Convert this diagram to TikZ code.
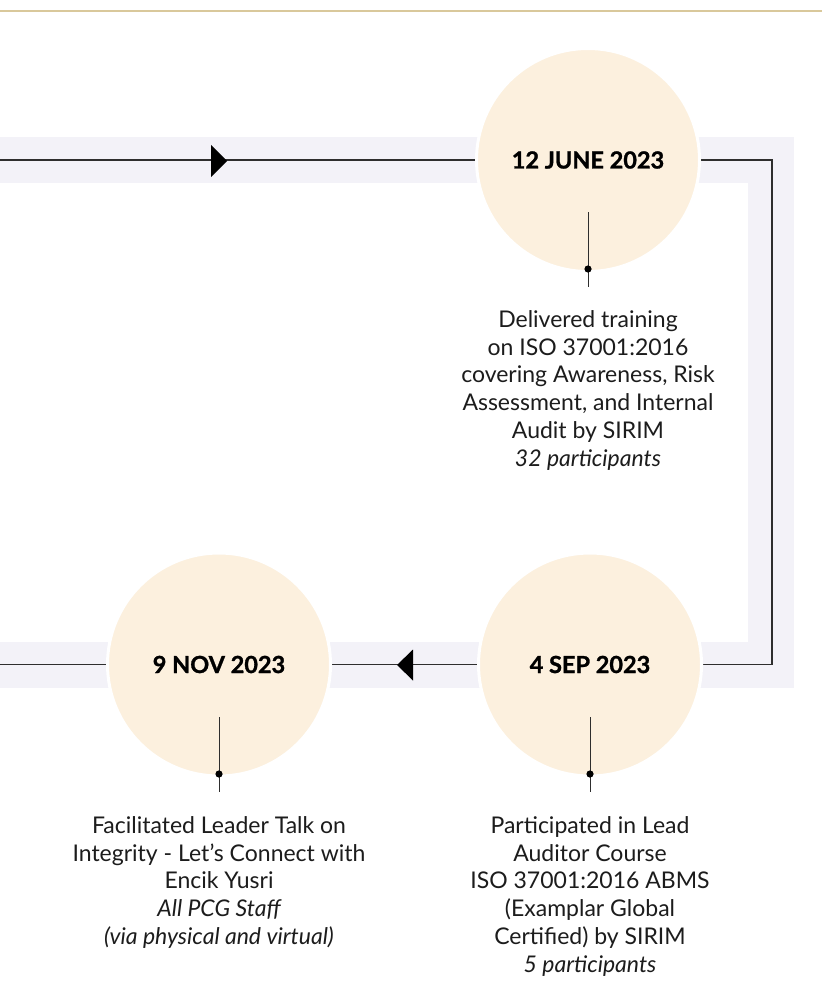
\documentclass[tikz,border=0pt]{standalone}
\usepackage{fontspec}
\setmainfont{Lato}
\newfontfamily\datefont[BoldFeatures={FakeBold=1.2}]{Lato}
\definecolor{gold}{HTML}{D9C89B}
\definecolor{band}{HTML}{F3F2F8}
\definecolor{cream}{HTML}{FCF0DE}
\definecolor{ink}{HTML}{1C1C1C}
\definecolor{wire}{HTML}{2E2E2E}
\tikzset{
  datecircle/.style={circle,fill=cream,draw=white,line width=3pt,minimum size=223pt,inner sep=0pt,
     font=\datefont\fontsize{23.5}{26}\selectfont\bfseries,text=black},
  wireline/.style={draw=wire,line width=1.3pt},
  stem/.style={draw=wire,line width=1pt},
  desc/.style={align=center,anchor=north,inner sep=0pt,text=ink,font=\fontsize{23}{27.8}\selectfont},
  tri/.style={fill=black},
}
\begin{document}
\begin{tikzpicture}[x=1pt,y=-1pt]
\useasboundingbox (0,0) rectangle (822,1003);
\fill[white] (0,0) rectangle (822,1003);
% top rule
\coordinate (r1) at (0,11);
\coordinate (r2) at (822,11);
\draw[gold,line width=2.2pt] (r1) -- (r2);
% band
\draw[band,line width=46pt,line join=miter] (-30,160) -- (771,160) -- (771,664.5) -- (-30,664.5);
% wire coordinates
\coordinate (w0) at (0,160);
\coordinate (w1) at (772,160);
\coordinate (w2) at (772,664.5);
\coordinate (w3) at (0,664.5);
\coordinate (cj) at (588,160);
\coordinate (cn) at (219,664.5);
\draw[wireline] (w0) -- (cj);
\draw[wireline] (cj) -- (w1) -- (w2) -- (cn);
\draw[wireline] (cn) -- (w3);
% arrow heads
\fill[tri] (211,145) -- (227,161) -- (211,177) -- cycle;
\fill[tri] (413,649.5) -- (397,665) -- (413,680.5) -- cycle;
% circles
\node[datecircle] (jun) at (cj) {12 JUNE 2023};
\node[datecircle] (nov) at (cn) {9 NOV 2023};
\node[datecircle] (sep) at (590,664.5) {4 SEP 2023};
% stems
\coordinate (s1a) at (588,212);
\coordinate (s1b) at (588,287);
\coordinate (s2a) at (219,717);
\coordinate (s2b) at (219,792);
\coordinate (s3a) at (590,717);
\coordinate (s3b) at (590,792);
\draw[stem] (s1a) -- (s1b);
\draw[stem] (s2a) -- (s2b);
\draw[stem] (s3a) -- (s3b);
\fill[black] (588,269) circle (3.6);
\fill[black] (219,774) circle (3.6);
\fill[black] (590,774) circle (3.6);
% descriptions
\node[desc] (t1) at (588,310.2) {Delivered training\\on ISO 37001:2016\\covering Awareness, Risk\\Assessment, and Internal\\Audit by SIRIM\\\itshape 32 participants};
\node[desc] (t2) at (219,816.2) {Facilitated Leader Talk on\\Integrity - Let's Connect with\\Encik Yusri\\\itshape All PCG Staff\\\itshape (via physical and virtual)};
\node[desc] (t3) at (590,816.2) {Participated in Lead\\Auditor Course\\ISO 37001:2016 ABMS\\(Examplar Global\\Certified) by SIRIM\\\itshape 5 participants};
\end{tikzpicture}
\end{document}
